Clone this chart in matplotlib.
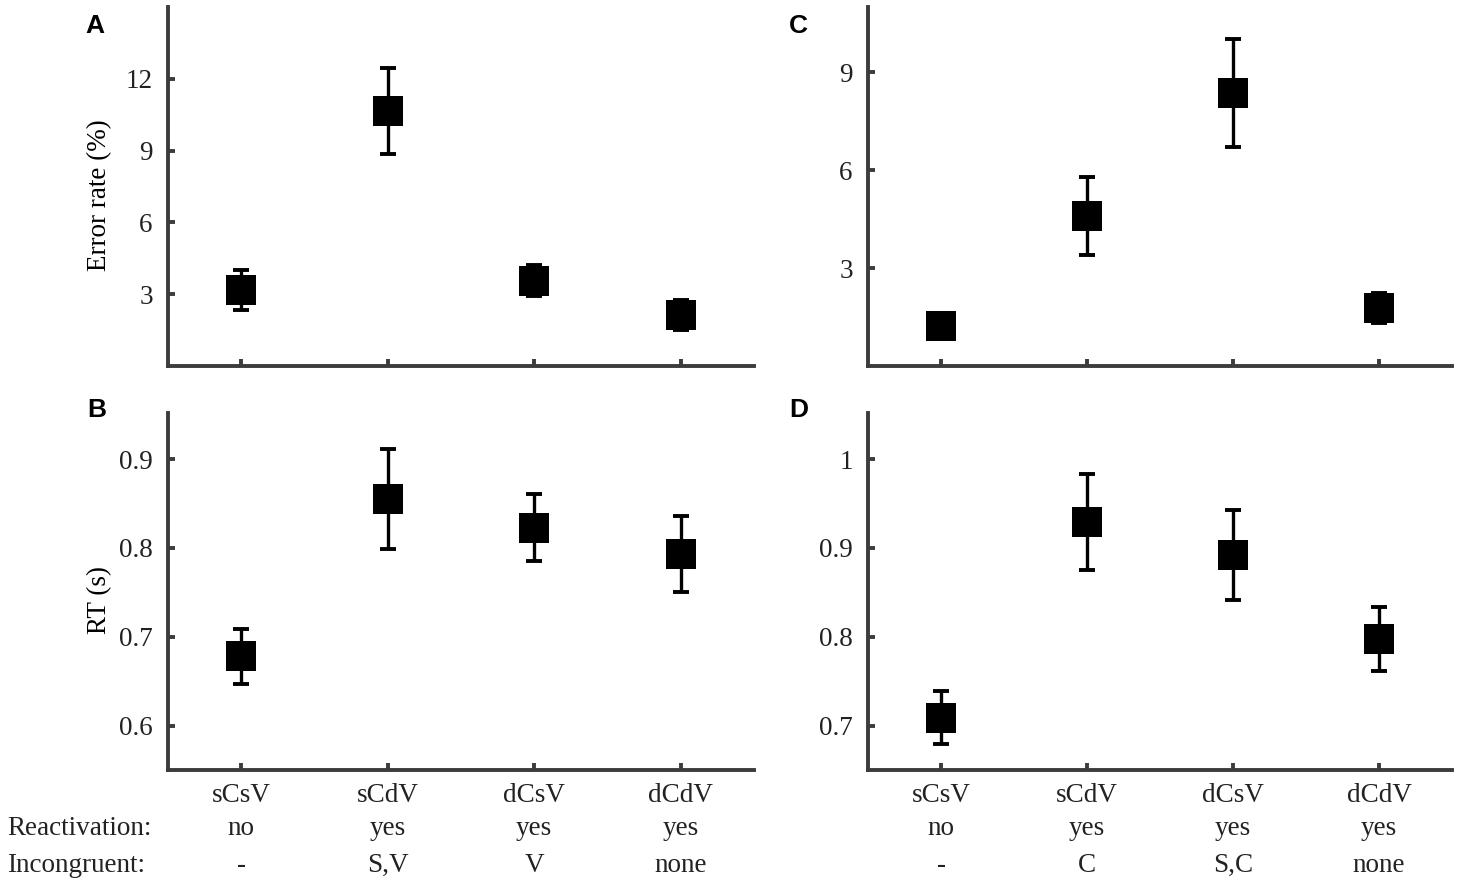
import matplotlib
matplotlib.use("Agg")
import matplotlib.pyplot as plt
import matplotlib.transforms as mtransforms

plt.rcParams['font.family'] = ['Liberation Serif', 'DejaVu Serif']

# conditions
categories = ['sCsV', 'sCdV', 'dCsV', 'dCdV']
reactivation = ['no', 'yes', 'yes', 'yes']
incongruent_left = ['-', 'S,V', 'V', 'none']
incongruent_right = ['-', 'C', 'S,C', 'none']

# panel A: error rate (%)
err_a = [3.18, 10.65, 3.57, 2.13]
sem_a = [0.82, 1.8, 0.64, 0.62]
# panel B: RT (s)
rt_b = [0.678, 0.855, 0.823, 0.793]
sem_b = [0.031, 0.056, 0.038, 0.043]
# panel C: error rate (%)
err_c = [1.24, 4.60, 8.37, 1.78]
sem_c = [0.38, 1.19, 1.66, 0.47]
# panel D: RT (s)
rt_d = [0.709, 0.929, 0.892, 0.798]
sem_d = [0.030, 0.054, 0.051, 0.036]

W, H = 1467, 886
fig = plt.figure(figsize=(W / 100, H / 100), dpi=100)

SPINE = '#3c3c3c'
FS = 19.5


def px_axes(x0, x1, y0, y1):
    return fig.add_axes([x0 / W, 1 - y1 / H, (x1 - x0) / W, (y1 - y0) / H])


def style(ax, ylim, yticks, ylabels):
    xs = range(1, len(categories) + 1)
    ax.set_xlim(0.5, 4.5)
    ax.set_ylim(*ylim)
    ax.set_yticks(yticks, ylabels)
    ax.set_xticks(list(xs))
    for s in ['top', 'right']:
        ax.spines[s].set_visible(False)
    for s in ['left', 'bottom']:
        ax.spines[s].set_linewidth(2.8)
        ax.spines[s].set_color(SPINE)
    ax.tick_params(direction='in', length=5, width=2.8, color=SPINE,
                   labelsize=FS, labelcolor='#222222')
    ax.tick_params(axis='y', pad=11)
    ax.tick_params(axis='x', pad=9)


def draw(ax, vals, sems):
    xs = list(range(1, len(vals) + 1))
    ax.errorbar(xs, vals, yerr=sems, fmt='none', ecolor='black',
                elinewidth=2.4, capsize=6, capthick=2.8, zorder=3)
    ax.plot(xs, vals, 's', color='black', ms=21.6, markeredgewidth=0,
            linestyle='none', zorder=4)


ax_a = px_axes(168, 754, 7, 366)
ax_b = px_axes(168, 754, 413, 770)
ax_c = px_axes(868, 1452, 7, 366)
ax_d = px_axes(868, 1452, 413, 770)

draw(ax_a, err_a, sem_a)
style(ax_a, (0, 15), [3, 6, 9, 12], ['3', '6', '9', '12'])
ax_a.set_xticklabels([])
ax_a.set_ylabel('Error rate (%)', fontsize=FS, va='center')
ax_a.yaxis.set_label_coords(-0.116, 0.477)

draw(ax_b, rt_b, sem_b)
style(ax_b, (0.55, 0.952), [0.6, 0.7, 0.8, 0.9], ['0.6', '0.7', '0.8', '0.9'])
ax_b.set_xticklabels(categories)
ax_b.set_ylabel('RT (s)', fontsize=FS, va='center')
ax_b.yaxis.set_label_coords(-0.116, 0.476)

draw(ax_c, err_c, sem_c)
style(ax_c, (0, 11), [3, 6, 9], ['3', '6', '9'])
ax_c.set_xticklabels([])

draw(ax_d, rt_d, sem_d)
style(ax_d, (0.65, 1.052), [0.7, 0.8, 0.9, 1.0], ['0.7', '0.8', '0.9', '1'])
ax_d.set_xticklabels(categories)

# rows of condition info under the bottom panels
row_react_y = 1 - 835 / H
row_incong_y = 1 - 872 / H
for ax, incong in [(ax_b, incongruent_left), (ax_d, incongruent_right)]:
    tr = mtransforms.blended_transform_factory(ax.transData, fig.transFigure)
    for i, (r, c) in enumerate(zip(reactivation, incong)):
        ax.text(i + 1, row_react_y, r, transform=tr, ha='center', va='baseline',
                fontsize=FS, color='#222222')
        ax.text(i + 1, row_incong_y, c, transform=tr, ha='center', va='baseline',
                fontsize=FS, color='#222222')

fig.text(7 / W, row_react_y, 'Reactivation:', ha='left', va='baseline',
         fontsize=FS, color='#222222')
fig.text(7 / W, row_incong_y, 'Incongruent:', ha='left', va='baseline',
         fontsize=FS, color='#222222')

# panel letters
for lbl, x, y in [('A', 85, 33), ('B', 87, 417), ('C', 789, 33), ('D', 789, 417)]:
    fig.text(x / W, 1 - y / H, lbl, ha='left', va='baseline', fontsize=19,
             fontweight='bold', family='Liberation Sans')

fig.savefig('out.png', dpi=100)
